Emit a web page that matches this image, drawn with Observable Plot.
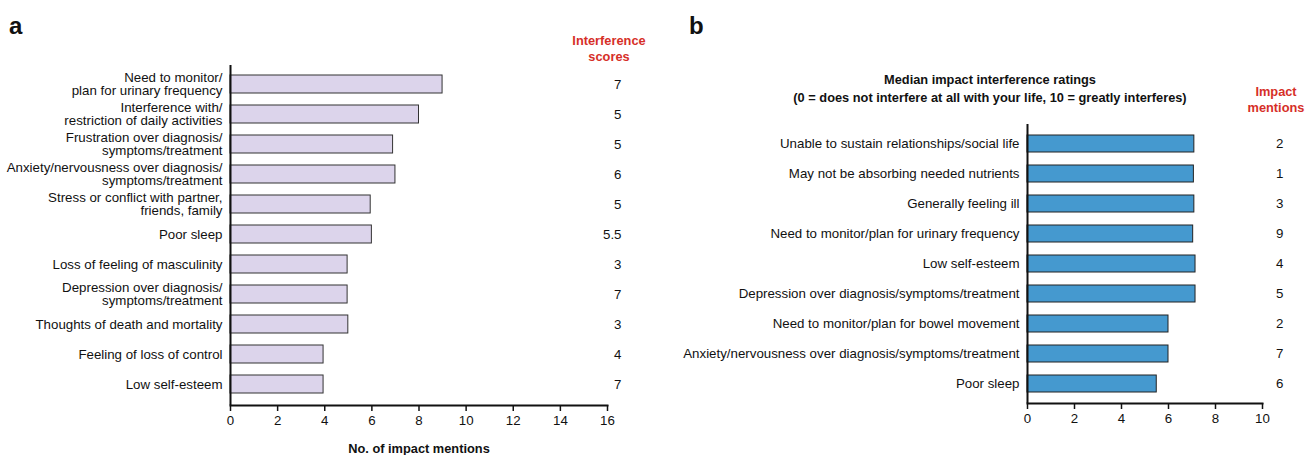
<!DOCTYPE html>
<html>
<head>
<meta charset="utf-8">
<script src="https://cdn.jsdelivr.net/npm/d3@7"></script>
<script src="https://cdn.jsdelivr.net/npm/@observablehq/plot@0.6"></script>
<style>
  html, body { margin: 0; padding: 0; background: #fff; }
  #root { position: relative; width: 1306px; height: 455px; overflow: hidden; font-family: "Liberation Sans", Arial, sans-serif; color: #111; background: #fff; }
  .abs { position: absolute; z-index: 2; }
  .panel { position: absolute; top: 0; z-index: 1; }
  .letter { font-weight: bold; font-size: 24px; }
  .red { color: #d62f28; font-weight: bold; font-size: 12.8px; text-align: center; line-height: 16px; }
  .title { font-weight: bold; font-size: 12.8px; text-align: center; line-height: 18px; white-space: nowrap; }
</style>
</head>
<body>
<div id="root">
  <div id="pa" class="panel" style="left:0px;"></div>
  <div id="pb" class="panel" style="left:660px;"></div>
  <div class="abs letter" style="left:9px; top:12px;">a</div>
  <div class="abs letter" style="left:689px; top:12px;">b</div>
  <div class="abs red" style="left:559px; top:33px; width:100px;">Interference<br>scores</div>
  <div class="abs red" style="left:1226px; top:84px; width:100px;">Impact<br>mentions</div>
  <div class="abs title" style="left:740px; top:71px; width:500px;">Median impact interference ratings<br>(0 = does not interfere at all with your life, 10 = greatly interferes)</div>
</div>
<script>
// Panel a data
const aLabels = [
  "Need to monitor/\nplan for urinary frequency",
  "Interference with/\nrestriction of daily activities",
  "Frustration over diagnosis/\nsymptoms/treatment",
  "Anxiety/nervousness over diagnosis/\nsymptoms/treatment",
  "Stress or conflict with partner,\nfriends, family",
  "Poor sleep",
  "Loss of feeling of masculinity",
  "Depression over diagnosis/\nsymptoms/treatment",
  "Thoughts of death and mortality",
  "Feeling of loss of control",
  "Low self-esteem"
];
const aMentions = [9, 8, 6.9, 7, 5.95, 6, 4.97, 4.97, 5, 3.95, 3.95];
const aScores = ["7", "5", "5", "6", "5", "5.5", "3", "7", "3", "4", "7"];
const aTicks = [0, 2, 4, 6, 8, 10, 12, 14, 16];
const aAxisLabel = "No. of impact mentions";

// Panel b data
const bLabels = [
  "Unable to sustain relationships/social life",
  "May not be absorbing needed nutrients",
  "Generally feeling ill",
  "Need to monitor/plan for urinary frequency",
  "Low self-esteem",
  "Depression over diagnosis/symptoms/treatment",
  "Need to monitor/plan for bowel movement",
  "Anxiety/nervousness over diagnosis/symptoms/treatment",
  "Poor sleep"
];
const bRatings = [7.1, 7.08, 7.1, 7.05, 7.15, 7.15, 6, 6, 5.5];
const bMentions = ["2", "1", "3", "9", "4", "5", "2", "7", "6"];
const bTicks = [0, 2, 4, 6, 8, 10];

const aData = aLabels.map((l, i) => ({label: l, value: aMentions[i], score: aScores[i]}));
const bData = bLabels.map((l, i) => ({label: l, value: bRatings[i], score: bMentions[i]}));

const font = "Liberation Sans, Arial, sans-serif";
const fs = 13.3;

const plotA = Plot.plot({
  width: 660, height: 455,
  marginLeft: 230, marginRight: 53, marginTop: 65, marginBottom: 50,
  style: {fontFamily: font, fontSize: fs + "px", color: "#111", background: "transparent"},
  x: {domain: [0, 16], ticks: aTicks},
  y: {domain: aLabels, paddingInner: 0.4, paddingOuter: 0.2, insetTop: 3, insetBottom: 5},
  marks: [
    Plot.barX(aData, {x: "value", y: "label", fill: "#dcd4eb", stroke: "#333", strokeWidth: 1}),
    Plot.axisY({tickSize: 0, tickPadding: 8, label: null, lineHeight: 1.0, fontSize: fs}),
    Plot.axisX({ticks: aTicks, tickSize: 6, tickPadding: 4, label: null, strokeWidth: 1.5, fontSize: fs}),
    Plot.ruleX([0], {stroke: "#111", strokeWidth: 2}),
    Plot.frame({anchor: "bottom", stroke: "#111", strokeWidth: 2}),
    Plot.text(aData, {y: "label", text: "score", frameAnchor: "right", dx: 14, fontSize: fs, fill: "#111"}),
    Plot.text([aAxisLabel], {text: d => d, frameAnchor: "bottom", dy: 47, fontWeight: "bold", fontSize: 12.8, fill: "#111"})
  ]
});
document.getElementById("pa").appendChild(plotA);

const plotB = Plot.plot({
  width: 646, height: 455,
  marginLeft: 367, marginRight: 44, marginTop: 124, marginBottom: 52,
  style: {fontFamily: font, fontSize: fs + "px", color: "#111", background: "transparent"},
  x: {domain: [0, 10], ticks: bTicks},
  y: {domain: bLabels, paddingInner: 0.42, paddingOuter: 0.21, insetTop: 3, insetBottom: 2},
  marks: [
    Plot.barX(bData, {x: "value", y: "label", fill: "#4599cf", stroke: "#222", strokeWidth: 1}),
    Plot.axisY({tickSize: 0, tickPadding: 8, label: null, fontSize: fs}),
    Plot.axisX({ticks: bTicks, tickSize: 6, tickPadding: 4, label: null, strokeWidth: 1.5, fontSize: fs}),
    Plot.ruleX([0], {stroke: "#111", strokeWidth: 2}),
    Plot.frame({anchor: "bottom", stroke: "#111", strokeWidth: 2}),
    Plot.text(bData, {y: "label", text: "score", frameAnchor: "right", dx: 21, fontSize: fs, fill: "#111"})
  ]
});
document.getElementById("pb").appendChild(plotB);
</script>
</body>
</html>
